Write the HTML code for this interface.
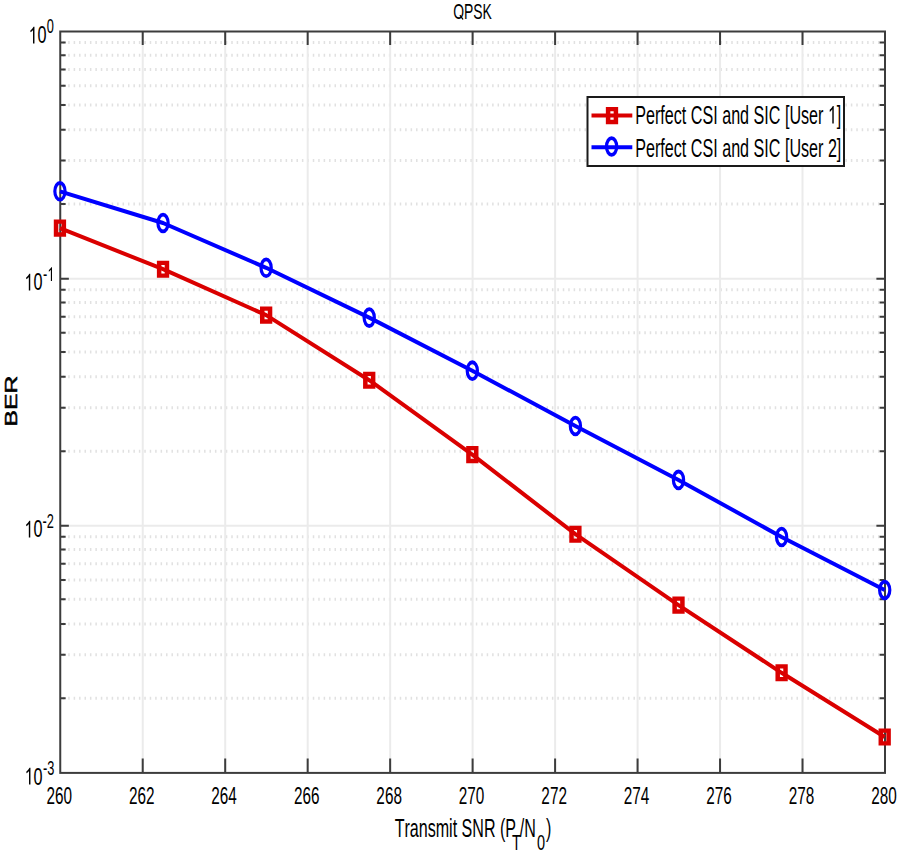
<!DOCTYPE html>
<html><head><meta charset="utf-8"><style>
html,body{margin:0;padding:0;background:#fff;}
body{width:901px;height:854px;position:relative;overflow:hidden;}
text{font-family:"Liberation Sans",sans-serif;font-kerning:none;}
</style></head><body>
<svg width="901" height="854" viewBox="0 0 901 854" style="position:absolute;left:0;top:0">
<rect x="0" y="0" width="901" height="854" fill="#fff"/>
<line x1="62.76" y1="204.04" x2="882" y2="204.04" stroke="#e1e1e1" stroke-width="3.0" stroke-dasharray="1.5 3.935"/>
<line x1="62.76" y1="160.52" x2="882" y2="160.52" stroke="#e1e1e1" stroke-width="3.0" stroke-dasharray="1.5 3.935"/>
<line x1="62.76" y1="129.64" x2="882" y2="129.64" stroke="#e1e1e1" stroke-width="3.0" stroke-dasharray="1.5 3.935"/>
<line x1="62.76" y1="104.89" x2="882" y2="104.89" stroke="#e1e1e1" stroke-width="3.0" stroke-dasharray="1.5 3.935"/>
<line x1="62.76" y1="85.73" x2="882" y2="85.73" stroke="#e1e1e1" stroke-width="3.0" stroke-dasharray="1.5 3.935"/>
<line x1="62.76" y1="69.58" x2="882" y2="69.58" stroke="#e1e1e1" stroke-width="3.0" stroke-dasharray="1.5 3.935"/>
<line x1="62.76" y1="55.25" x2="882" y2="55.25" stroke="#e1e1e1" stroke-width="3.0" stroke-dasharray="1.5 3.935"/>
<line x1="62.76" y1="42.61" x2="882" y2="42.61" stroke="#e1e1e1" stroke-width="3.0" stroke-dasharray="1.5 3.935"/>
<line x1="62.76" y1="451.17" x2="882" y2="451.17" stroke="#e1e1e1" stroke-width="3.0" stroke-dasharray="1.5 3.935"/>
<line x1="62.76" y1="407.65" x2="882" y2="407.65" stroke="#e1e1e1" stroke-width="3.0" stroke-dasharray="1.5 3.935"/>
<line x1="62.76" y1="376.78" x2="882" y2="376.78" stroke="#e1e1e1" stroke-width="3.0" stroke-dasharray="1.5 3.935"/>
<line x1="62.76" y1="352.03" x2="882" y2="352.03" stroke="#e1e1e1" stroke-width="3.0" stroke-dasharray="1.5 3.935"/>
<line x1="62.76" y1="332.86" x2="882" y2="332.86" stroke="#e1e1e1" stroke-width="3.0" stroke-dasharray="1.5 3.935"/>
<line x1="62.76" y1="316.71" x2="882" y2="316.71" stroke="#e1e1e1" stroke-width="3.0" stroke-dasharray="1.5 3.935"/>
<line x1="62.76" y1="302.38" x2="882" y2="302.38" stroke="#e1e1e1" stroke-width="3.0" stroke-dasharray="1.5 3.935"/>
<line x1="62.76" y1="289.74" x2="882" y2="289.74" stroke="#e1e1e1" stroke-width="3.0" stroke-dasharray="1.5 3.935"/>
<line x1="62.76" y1="698.31" x2="882" y2="698.31" stroke="#e1e1e1" stroke-width="3.0" stroke-dasharray="1.5 3.935"/>
<line x1="62.76" y1="654.79" x2="882" y2="654.79" stroke="#e1e1e1" stroke-width="3.0" stroke-dasharray="1.5 3.935"/>
<line x1="62.76" y1="623.91" x2="882" y2="623.91" stroke="#e1e1e1" stroke-width="3.0" stroke-dasharray="1.5 3.935"/>
<line x1="62.76" y1="599.16" x2="882" y2="599.16" stroke="#e1e1e1" stroke-width="3.0" stroke-dasharray="1.5 3.935"/>
<line x1="62.76" y1="579.99" x2="882" y2="579.99" stroke="#e1e1e1" stroke-width="3.0" stroke-dasharray="1.5 3.935"/>
<line x1="62.76" y1="563.85" x2="882" y2="563.85" stroke="#e1e1e1" stroke-width="3.0" stroke-dasharray="1.5 3.935"/>
<line x1="62.76" y1="549.52" x2="882" y2="549.52" stroke="#e1e1e1" stroke-width="3.0" stroke-dasharray="1.5 3.935"/>
<line x1="62.76" y1="536.87" x2="882" y2="536.87" stroke="#e1e1e1" stroke-width="3.0" stroke-dasharray="1.5 3.935"/>
<line x1="142.72" y1="31.5" x2="142.72" y2="772.9" stroke="#ebebeb" stroke-width="2"/>
<line x1="225.20" y1="31.5" x2="225.20" y2="772.9" stroke="#ebebeb" stroke-width="2"/>
<line x1="307.68" y1="31.5" x2="307.68" y2="772.9" stroke="#ebebeb" stroke-width="2"/>
<line x1="390.15" y1="31.5" x2="390.15" y2="772.9" stroke="#ebebeb" stroke-width="2"/>
<line x1="472.62" y1="31.5" x2="472.62" y2="772.9" stroke="#ebebeb" stroke-width="2"/>
<line x1="555.10" y1="31.5" x2="555.10" y2="772.9" stroke="#ebebeb" stroke-width="2"/>
<line x1="637.58" y1="31.5" x2="637.58" y2="772.9" stroke="#ebebeb" stroke-width="2"/>
<line x1="720.05" y1="31.5" x2="720.05" y2="772.9" stroke="#ebebeb" stroke-width="2"/>
<line x1="802.52" y1="31.5" x2="802.52" y2="772.9" stroke="#ebebeb" stroke-width="2"/>
<line x1="60.25" y1="278.63" x2="885" y2="278.63" stroke="#ebebeb" stroke-width="2"/>
<line x1="60.25" y1="525.77" x2="885" y2="525.77" stroke="#ebebeb" stroke-width="2"/>
<path d="M142.72 772.9V758.4M142.72 31.5V45.0M225.20 772.9V758.4M225.20 31.5V45.0M307.68 772.9V758.4M307.68 31.5V45.0M390.15 772.9V758.4M390.15 31.5V45.0M472.62 772.9V758.4M472.62 31.5V45.0M555.10 772.9V758.4M555.10 31.5V45.0M637.58 772.9V758.4M637.58 31.5V45.0M720.05 772.9V758.4M720.05 31.5V45.0M802.52 772.9V758.4M802.52 31.5V45.0M60.25 278.63h8.6M885 278.63h-8.6M60.25 525.77h8.6M885 525.77h-8.6M60.25 204.04h5.4M885 204.04h-5.4M60.25 160.52h5.4M885 160.52h-5.4M60.25 129.64h5.4M885 129.64h-5.4M60.25 104.89h5.4M885 104.89h-5.4M60.25 85.73h5.4M885 85.73h-5.4M60.25 69.58h5.4M885 69.58h-5.4M60.25 55.25h5.4M885 55.25h-5.4M60.25 42.61h5.4M885 42.61h-5.4M60.25 451.17h5.4M885 451.17h-5.4M60.25 407.65h5.4M885 407.65h-5.4M60.25 376.78h5.4M885 376.78h-5.4M60.25 352.03h5.4M885 352.03h-5.4M60.25 332.86h5.4M885 332.86h-5.4M60.25 316.71h5.4M885 316.71h-5.4M60.25 302.38h5.4M885 302.38h-5.4M60.25 289.74h5.4M885 289.74h-5.4M60.25 698.31h5.4M885 698.31h-5.4M60.25 654.79h5.4M885 654.79h-5.4M60.25 623.91h5.4M885 623.91h-5.4M60.25 599.16h5.4M885 599.16h-5.4M60.25 579.99h5.4M885 579.99h-5.4M60.25 563.85h5.4M885 563.85h-5.4M60.25 549.52h5.4M885 549.52h-5.4M60.25 536.87h5.4M885 536.87h-5.4" stroke="#3c3c3c" stroke-width="2" fill="none"/>
<rect x="60.25" y="31.5" width="824.75" height="741.4" fill="none" stroke="#3c3c3c" stroke-width="2"/>
<polyline points="59.95,228.10 163.04,269.20 266.14,315.10 369.23,380.20 472.32,454.60 575.42,534.20 678.51,605.10 781.61,672.80 884.70,737.00" fill="none" stroke="#da0000" stroke-width="4.0" stroke-linejoin="round"/>
<path fill-rule="evenodd" fill="#da0000" d="M53.80 219.55h12.3v17.1h-12.3zM58.30 223.85v8.5h3.3v-8.5z"/>
<path fill-rule="evenodd" fill="#da0000" d="M156.89 260.65h12.3v17.1h-12.3zM161.39 264.95v8.5h3.3v-8.5z"/>
<path fill-rule="evenodd" fill="#da0000" d="M259.99 306.55h12.3v17.1h-12.3zM264.49 310.85v8.5h3.3v-8.5z"/>
<path fill-rule="evenodd" fill="#da0000" d="M363.08 371.65h12.3v17.1h-12.3zM367.58 375.95v8.5h3.3v-8.5z"/>
<path fill-rule="evenodd" fill="#da0000" d="M466.18 446.05h12.3v17.1h-12.3zM470.68 450.35v8.5h3.3v-8.5z"/>
<path fill-rule="evenodd" fill="#da0000" d="M569.27 525.65h12.3v17.1h-12.3zM573.77 529.95v8.5h3.3v-8.5z"/>
<path fill-rule="evenodd" fill="#da0000" d="M672.36 596.55h12.3v17.1h-12.3zM676.86 600.85v8.5h3.3v-8.5z"/>
<path fill-rule="evenodd" fill="#da0000" d="M775.46 664.25h12.3v17.1h-12.3zM779.96 668.55v8.5h3.3v-8.5z"/>
<path fill-rule="evenodd" fill="#da0000" d="M878.55 728.45h12.3v17.1h-12.3zM883.05 732.75v8.5h3.3v-8.5z"/>
<polyline points="59.95,191.30 163.04,223.00 266.14,267.80 369.23,317.60 472.32,370.70 575.42,426.00 678.51,479.90 781.61,537.00 884.70,590.00" fill="none" stroke="#0000ff" stroke-width="4.0" stroke-linejoin="round"/>
<path fill-rule="evenodd" fill="#0000ff" d="M53.25 191.30a6.7 10.3 0 1 0 13.40 0a6.7 10.3 0 1 0 -13.40 0zM56.45 191.30a3.5 6.5 0 1 0 7.00 0a3.5 6.5 0 1 0 -7.00 0z"/>
<path fill-rule="evenodd" fill="#0000ff" d="M156.34 223.00a6.7 10.3 0 1 0 13.40 0a6.7 10.3 0 1 0 -13.40 0zM159.54 223.00a3.5 6.5 0 1 0 7.00 0a3.5 6.5 0 1 0 -7.00 0z"/>
<path fill-rule="evenodd" fill="#0000ff" d="M259.44 267.80a6.7 10.3 0 1 0 13.40 0a6.7 10.3 0 1 0 -13.40 0zM262.64 267.80a3.5 6.5 0 1 0 7.00 0a3.5 6.5 0 1 0 -7.00 0z"/>
<path fill-rule="evenodd" fill="#0000ff" d="M362.53 317.60a6.7 10.3 0 1 0 13.40 0a6.7 10.3 0 1 0 -13.40 0zM365.73 317.60a3.5 6.5 0 1 0 7.00 0a3.5 6.5 0 1 0 -7.00 0z"/>
<path fill-rule="evenodd" fill="#0000ff" d="M465.62 370.70a6.7 10.3 0 1 0 13.40 0a6.7 10.3 0 1 0 -13.40 0zM468.82 370.70a3.5 6.5 0 1 0 7.00 0a3.5 6.5 0 1 0 -7.00 0z"/>
<path fill-rule="evenodd" fill="#0000ff" d="M568.72 426.00a6.7 10.3 0 1 0 13.40 0a6.7 10.3 0 1 0 -13.40 0zM571.92 426.00a3.5 6.5 0 1 0 7.00 0a3.5 6.5 0 1 0 -7.00 0z"/>
<path fill-rule="evenodd" fill="#0000ff" d="M671.81 479.90a6.7 10.3 0 1 0 13.40 0a6.7 10.3 0 1 0 -13.40 0zM675.01 479.90a3.5 6.5 0 1 0 7.00 0a3.5 6.5 0 1 0 -7.00 0z"/>
<path fill-rule="evenodd" fill="#0000ff" d="M774.91 537.00a6.7 10.3 0 1 0 13.40 0a6.7 10.3 0 1 0 -13.40 0zM778.11 537.00a3.5 6.5 0 1 0 7.00 0a3.5 6.5 0 1 0 -7.00 0z"/>
<path fill-rule="evenodd" fill="#0000ff" d="M878.00 590.00a6.7 10.3 0 1 0 13.40 0a6.7 10.3 0 1 0 -13.40 0zM881.20 590.00a3.5 6.5 0 1 0 7.00 0a3.5 6.5 0 1 0 -7.00 0z"/>
<rect x="587.5" y="97" width="256.5" height="69" fill="#fff" stroke="#1a1a1a" stroke-width="2"/>
<line x1="591.5" y1="115.6" x2="632.3" y2="115.6" stroke="#da0000" stroke-width="4.0"/>
<path fill-rule="evenodd" fill="#da0000" d="M605.85 107.05h12.3v17.1h-12.3zM610.35 111.35v8.5h3.3v-8.5z"/>
<line x1="591.5" y1="147.3" x2="632.3" y2="147.3" stroke="#0000ff" stroke-width="4.0"/>
<path fill-rule="evenodd" fill="#0000ff" d="M604.90 146.50a6.7 10.3 0 1 0 13.40 0a6.7 10.3 0 1 0 -13.40 0zM608.10 146.50a3.5 6.5 0 1 0 7.00 0a3.5 6.5 0 1 0 -7.00 0z"/>
<text transform="translate(453.14,19.20) scale(0.6521,1)" font-size="21.37" fill="#000">O</text><path transform="translate(453.14,19.20) scale(0.00680,-0.01043)" fill="#000" d="M930 330L1060 420L1500 40L1470 -60L1380 -60Z"/><text transform="translate(463.98,19.20) scale(0.6521,1)" font-size="21.37" font-weight="normal" fill="#000">PSK</text>
<text transform="translate(46.43,803.55) scale(0.6276,1)" font-size="24.42" font-weight="normal" fill="#000">260</text>
<text transform="translate(128.99,803.55) scale(0.6276,1)" font-size="24.42" font-weight="normal" fill="#000">262</text>
<text transform="translate(211.30,803.55) scale(0.6276,1)" font-size="24.42" font-weight="normal" fill="#000">264</text>
<text transform="translate(293.89,803.55) scale(0.6276,1)" font-size="24.42" font-weight="normal" fill="#000">266</text>
<text transform="translate(376.36,803.55) scale(0.6276,1)" font-size="24.42" font-weight="normal" fill="#000">268</text>
<text transform="translate(458.80,803.55) scale(0.6276,1)" font-size="24.42" font-weight="normal" fill="#000">270</text>
<text transform="translate(541.37,803.55) scale(0.6276,1)" font-size="24.42" font-weight="normal" fill="#000">272</text>
<text transform="translate(623.68,803.55) scale(0.6276,1)" font-size="24.42" font-weight="normal" fill="#000">274</text>
<text transform="translate(706.27,803.55) scale(0.6276,1)" font-size="24.42" font-weight="normal" fill="#000">276</text>
<text transform="translate(788.74,803.55) scale(0.6276,1)" font-size="24.42" font-weight="normal" fill="#000">278</text>
<text transform="translate(871.18,803.55) scale(0.6276,1)" font-size="24.42" font-weight="normal" fill="#000">280</text>
<path transform="translate(28.58,43.45) scale(0.00793,-0.01185)" fill="#000" d="M740 0L560 0L560 1140Q470 1060 340 990Q280 955 230 935L230 1100Q380 1170 480 1260Q580 1350 620 1409L740 1409Z"/><text transform="translate(37.61,43.45) scale(0.6688,1)" font-size="24.28" font-weight="normal" fill="#000">0</text>
<text transform="translate(46.69,32.50) scale(0.6300,1)" font-size="20.30" font-weight="normal" fill="#000">0</text>
<path transform="translate(24.38,290.45) scale(0.00793,-0.01185)" fill="#000" d="M740 0L560 0L560 1140Q470 1060 340 990Q280 955 230 935L230 1100Q380 1170 480 1260Q580 1350 620 1409L740 1409Z"/><text transform="translate(33.41,290.45) scale(0.6688,1)" font-size="24.28" font-weight="normal" fill="#000">0</text>
<text transform="translate(43.12,281.10) scale(0.6300,1)" font-size="20.30" font-weight="normal" fill="#000">-</text><path transform="translate(47.38,281.10) scale(0.00624,-0.00991)" fill="#000" d="M740 0L560 0L560 1140Q470 1060 340 990Q280 955 230 935L230 1100Q380 1170 480 1260Q580 1350 620 1409L740 1409Z"/>
<path transform="translate(24.38,537.45) scale(0.00793,-0.01185)" fill="#000" d="M740 0L560 0L560 1140Q470 1060 340 990Q280 955 230 935L230 1100Q380 1170 480 1260Q580 1350 620 1409L740 1409Z"/><text transform="translate(33.41,537.45) scale(0.6688,1)" font-size="24.28" font-weight="normal" fill="#000">0</text>
<text transform="translate(42.57,528.10) scale(0.6300,1)" font-size="20.30" font-weight="normal" fill="#000">-2</text>
<path transform="translate(24.58,784.55) scale(0.00793,-0.01185)" fill="#000" d="M740 0L560 0L560 1140Q470 1060 340 990Q280 955 230 935L230 1100Q380 1170 480 1260Q580 1350 620 1409L740 1409Z"/><text transform="translate(33.61,784.55) scale(0.6688,1)" font-size="24.28" font-weight="normal" fill="#000">0</text>
<text transform="translate(43.09,775.40) scale(0.6300,1)" font-size="20.30" font-weight="normal" fill="#000">-3</text>
<text transform="translate(635.28,123.60) scale(0.6266,1)" font-size="25.73" font-weight="normal" fill="#000">Perfect CSI and SIC [User </text><path transform="translate(827.90,123.60) scale(0.00787,-0.01256)" fill="#000" d="M740 0L560 0L560 1140Q470 1060 340 990Q280 955 230 935L230 1100Q380 1170 480 1260Q580 1350 620 1409L740 1409Z"/><text transform="translate(836.87,123.60) scale(0.6266,1)" font-size="25.73" font-weight="normal" fill="#000">]</text>
<text transform="translate(635.28,156.90) scale(0.6266,1)" font-size="25.73" font-weight="normal" fill="#000">Perfect CSI and SIC [User 2]</text>
<text transform="translate(394.64,836.60) scale(0.6251,1)" font-size="25.73" font-weight="normal" fill="#000">Transmit SNR (P</text>
<text transform="translate(511.97,850.10) scale(0.6355,1)" font-size="22.82" font-weight="normal" fill="#000">T</text>
<text transform="translate(519.70,836.60) scale(0.6251,1)" font-size="25.73" font-weight="normal" fill="#000">/N</text>
<text transform="translate(537.03,850.10) scale(0.6355,1)" font-size="22.82" font-weight="normal" fill="#000">0</text>
<text transform="translate(546.11,836.60) scale(0.6251,1)" font-size="25.73" font-weight="normal" fill="#000">)</text>
<text transform="translate(16.95,426.38) rotate(-90) scale(1.0288,0.6783)" font-size="24.0" fill="#000" stroke="#000" stroke-width="0.737" stroke-linejoin="miter">BER</text>
</svg>
</body></html>
